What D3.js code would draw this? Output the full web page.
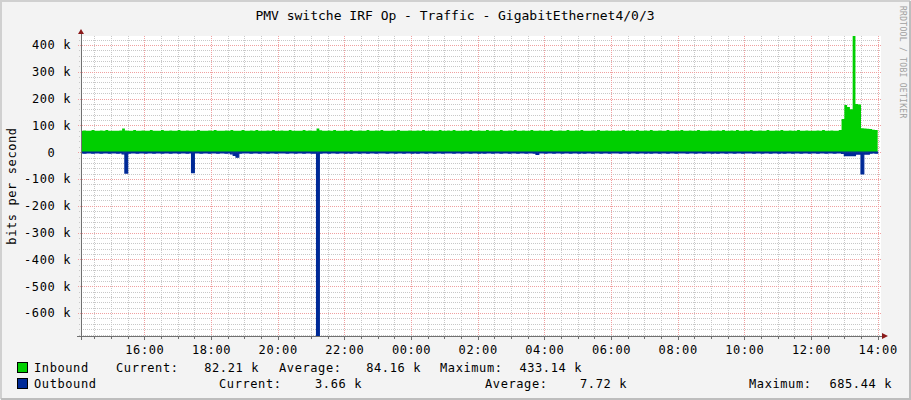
<!DOCTYPE html>
<html>
<head>
<meta charset="utf-8">
<script src="https://cdn.jsdelivr.net/npm/d3@7"></script>
<style>
body { margin: 0; background: #f3f3f3; }
text { font-family: "DejaVu Sans Mono", monospace; fill: #000; }
</style>
</head>
<body>
<svg id="chart" width="911" height="400"></svg>
<script>
// 5 minute samples, first one starts 14:05, values in k bits/s
var startTime = "2024-03-04T14:05:00";
var stepMinutes = 5;

var inbound = [
  80,81,80,80,83,80,80,81,80,83,80,80,
  80,80,81,88,81,80,80,83,80,80,81,80,
  80,83,80,80,80,83,80,80,81,80,80,83,
  80,80,81,80,80,80,83,80,80,80,81,80,
  83,80,80,80,81,80,83,80,80,80,83,80,
  80,81,80,83,80,80,80,81,80,83,80,80,
  81,80,80,83,80,80,80,80,83,80,81,80,
  80,88,82,80,80,81,80,83,80,80,80,81,
  80,83,80,80,81,80,80,83,80,80,81,80,
  83,80,80,80,81,80,83,80,80,80,81,80,
  80,81,80,83,80,80,81,80,80,83,80,80,
  81,80,83,80,80,80,81,80,83,80,80,81,
  80,80,83,80,81,80,80,83,80,80,81,80,
  83,80,80,81,80,80,83,80,80,81,80,80,
  80,83,80,80,81,80,80,83,80,80,81,80,
  83,80,80,80,81,80,83,80,80,81,80,80,
  80,81,80,83,80,80,81,80,83,80,80,81,
  80,83,80,80,81,80,80,83,80,80,81,80,
  83,80,80,81,80,80,83,80,80,80,81,80,
  80,81,80,83,80,80,81,80,83,80,80,81,
  80,83,80,80,81,80,80,83,80,80,81,80,
  83,80,80,81,80,80,83,80,80,81,80,80,
  80,81,80,83,80,80,81,80,80,83,124,176,
  168,160,433.14,180,178,89,88,87,86,84,82.21
];

var outbound = [
  3,4,3,3,4,3,3,4,3,3,4,3,
  3,4,3,6,78,4,3,3,4,3,3,4,
  3,3,4,3,3,4,3,3,4,3,3,4,
  3,3,4,3,76,3,3,4,3,3,4,3,
  3,4,3,3,4,3,6,12,19,4,3,3,
  3,4,3,3,4,3,3,4,3,3,4,3,
  3,3,4,3,3,4,3,3,4,3,3,4,
  4,685.44,4,3,3,4,3,3,4,3,3,4,
  3,4,3,3,4,3,3,4,3,3,4,3,
  3,3,4,3,3,4,3,3,4,3,3,4,
  3,4,3,3,4,3,3,4,3,3,4,3,
  3,3,4,3,3,4,3,3,4,3,3,4,
  3,4,3,3,4,3,3,4,3,3,4,3,
  3,4,3,3,4,3,3,4,8,3,3,4,
  3,3,4,3,3,4,3,3,4,3,3,4,
  3,4,3,3,4,3,3,4,3,3,4,3,
  3,3,4,3,3,4,3,3,4,3,3,4,
  3,4,3,3,4,3,3,4,3,3,4,3,
  3,3,4,3,3,4,3,3,4,3,3,4,
  3,4,3,3,4,3,3,4,3,3,4,3,
  3,3,4,3,3,4,3,3,4,3,3,4,
  3,4,3,3,4,3,3,4,3,3,4,3,
  3,4,3,3,4,3,3,4,3,3,5,13,
  13,13,13,7,7,81,7,7,4,3,3.66
];

var xTickLabels = ["16:00","18:00","20:00","22:00","00:00","02:00","04:00",
                   "06:00","08:00","10:00","12:00","14:00"];
var yTickValues = [400, 300, 200, 100, 0, -100, -200, -300, -400, -500, -600];

var seriesNames = ["Inbound", "Outbound"];
var seriesColors = ["#00cf00", "#002a97"];
var currentValues = ["82.21 k", "3.66 k"];
var averageValues = ["84.16 k", "7.72 k"];
var maximumValues = ["433.14 k", "685.44 k"];

var title = "PMV switche IRF Op - Traffic - GigabitEthernet4/0/3";

var svg = d3.select("#chart");
var plotLeft = 81, plotRight = 881, plotTop = 36, plotBottom = 336;

// frame
svg.append("rect").attr("x", 0).attr("y", 0).attr("width", 911).attr("height", 400)
    .attr("fill", "#f3f3f3");
svg.append("path").attr("d", "M1,399V1H910").attr("fill", "none")
    .attr("stroke", "#d0d0d0").attr("stroke-width", 2);
svg.append("path").attr("d", "M1,399H910V1").attr("fill", "none")
    .attr("stroke", "#bdbdbd").attr("stroke-width", 2);

svg.append("rect").attr("x", plotLeft).attr("y", plotTop)
    .attr("width", plotRight - plotLeft).attr("height", plotBottom - plotTop).attr("fill", "#fff");

var t0 = new Date(startTime);
var dayStart = d3.timeDay.floor(t0);
var x = d3.scaleTime()
    .domain([d3.timeMinute.offset(t0, 1), d3.timeMinute.offset(t0, 1 + 24 * 60)])
    .range([plotLeft, plotRight]);
var y = d3.scaleLinear().domain([-685.44, 433.14]).range([plotBottom, plotTop]);

// grid
var grid = svg.append("g");
var halfHours = d3.timeMinute.every(30).range(x.domain()[0], x.domain()[1]);
grid.selectAll(".vminor").data(halfHours.filter(d => !(d.getMinutes() == 0 && d.getHours() % 2 == 0)))
    .enter().append("line")
    .attr("x1", d => Math.round(x(d)) + 0.5).attr("x2", d => Math.round(x(d)) + 0.5)
    .attr("y1", plotTop).attr("y2", plotBottom)
    .attr("stroke", "#c8c8c8").attr("stroke-dasharray", "1,1");
var minorY = d3.range(-680, 440, 20).filter(v => v % 100 != 0);
grid.selectAll(".hminor").data(minorY).enter().append("line")
    .attr("x1", plotLeft - 2).attr("x2", plotRight)
    .attr("y1", d => Math.round(y(d)) + 0.5).attr("y2", d => Math.round(y(d)) + 0.5)
    .attr("stroke", "#c8c8c8").attr("stroke-dasharray", "1,1");

var xTickDates = [];
var day = dayStart;
xTickLabels.forEach(function(s, i) {
    var hm = s.split(":");
    if (i > 0 && s == "00:00") day = d3.timeDay.offset(day, 1);
    var d = new Date(day);
    d.setHours(+hm[0], +hm[1]);
    xTickDates.push(d);
});

grid.selectAll(".vmajor").data(xTickDates).enter().append("line")
    .attr("x1", d => Math.round(x(d)) + 0.5).attr("x2", d => Math.round(x(d)) + 0.5)
    .attr("y1", plotTop).attr("y2", plotBottom)
    .attr("stroke", "#f0a0a0").attr("stroke-dasharray", "1,1");
grid.selectAll(".hmajor").data(yTickValues).enter().append("line")
    .attr("x1", plotLeft - 3).attr("x2", plotRight)
    .attr("y1", d => Math.round(y(d)) + 0.5).attr("y2", d => Math.round(y(d)) + 0.5)
    .attr("stroke", "#f0a0a0").attr("stroke-dasharray", "1,1");

// data
function points(values) {
    var pts = values.map((v, i) => ({ t: d3.timeMinute.offset(t0, i * stepMinutes), v: v }));
    pts.push({ t: d3.timeMinute.offset(t0, values.length * stepMinutes), v: values[values.length - 1] });
    return pts;
}

svg.append("clipPath").attr("id", "plot").append("rect")
    .attr("x", plotLeft).attr("y", plotTop - 1)
    .attr("width", plotRight - plotLeft).attr("height", plotBottom - plotTop + 1);

var plot = svg.append("g").attr("clip-path", "url(#plot)");

var inArea = d3.area().curve(d3.curveStepAfter)
    .x(d => x(d.t)).y0(y(0)).y1(d => y(d.v));
var outArea = d3.area().curve(d3.curveStepAfter)
    .x(d => x(d.t)).y0(y(0)).y1(d => y(-d.v));

plot.append("path").datum(points(inbound)).attr("d", inArea)
    .attr("fill", seriesColors[0]);
plot.append("path").datum(points(outbound)).attr("d", outArea)
    .attr("fill", seriesColors[1]).attr("stroke", seriesColors[1]).attr("stroke-width", 1.2);

// axes
var axisColor = "#707070";
svg.append("line").attr("x1", plotLeft - 4).attr("x2", 884)
    .attr("y1", plotBottom + 0.5).attr("y2", plotBottom + 0.5)
    .attr("stroke", axisColor);
svg.append("line").attr("x1", plotLeft + 0.5).attr("x2", plotLeft + 0.5)
    .attr("y1", plotBottom + 4).attr("y2", 33)
    .attr("stroke", axisColor);
svg.append("path").attr("d", "M78,34L84,34L81,29Z").attr("fill", "#8b1a1a");
svg.append("path").attr("d", "M882,333L882,339L888,336Z").attr("fill", "#8b1a1a");

// tick marks below the x axis
svg.selectAll(".xtick").data(halfHours).enter().append("line")
    .attr("x1", d => Math.round(x(d)) + 0.5).attr("x2", d => Math.round(x(d)) + 0.5)
    .attr("y1", plotBottom).attr("y2", d => plotBottom + (d.getMinutes() == 0 && d.getHours() % 2 == 0 ? 4 : 3))
    .attr("stroke", axisColor);

var xAxis = d3.axisBottom(x).tickValues(xTickDates).tickSize(0).tickPadding(9)
    .tickFormat(d3.timeFormat("%H:%M"));
var gx = svg.append("g").attr("transform", "translate(0," + plotBottom + ")").call(xAxis);
gx.select(".domain").remove();
gx.selectAll("text").style("font-family", "'DejaVu Sans Mono', monospace")
    .style("font-size", "12px").style("letter-spacing", "0.6px").attr("fill", "#000");

var yAxis = d3.axisLeft(y).tickValues(yTickValues).tickSize(0).tickPadding(10)
    .tickFormat(v => v == 0 ? "0  " : v + " k");
var gy = svg.append("g").attr("transform", "translate(" + plotLeft + ",0)").call(yAxis);
gy.select(".domain").remove();
gy.selectAll("text").style("font-family", "'DejaVu Sans Mono', monospace")
    .style("font-size", "12px").style("letter-spacing", "0.6px")
    .style("white-space", "pre").attr("fill", "#000");

// titles
svg.append("text").attr("x", 455).attr("y", 20).attr("text-anchor", "middle")
    .style("font-size", "13px").text(title);
svg.append("text").attr("transform", "translate(16,186) rotate(-90)")
    .attr("text-anchor", "middle").style("font-size", "12px").style("letter-spacing", "0.6px")
    .text("bits per second");
svg.append("text").attr("transform", "translate(900,6) rotate(90)")
    .style("font-size", "8px").style("letter-spacing", "0.3px")
    .style("fill", "#a0a0a0").text("RRDTOOL / TOBI OETIKER");

// legend
var legendY = [372, 388];
var legendPos = [
    { cur: 116, curV: 259, avg: 279, avgV: 421, max: 440, maxV: 582 },
    { cur: 219, curV: 362, avg: 485, avgV: 627, max: 749, maxV: 892 }
];
seriesNames.forEach(function(name, i) {
    var g = svg.append("g").style("font-size", "12px").style("letter-spacing", "0.6px");
    var yy = legendY[i], p = legendPos[i];
    g.append("rect").attr("x", 17.5).attr("y", yy - 9.5).attr("width", 10).attr("height", 10)
        .attr("fill", seriesColors[i]).attr("stroke", "#000");
    g.append("text").attr("x", 34).attr("y", yy).text(name);
    g.append("text").attr("x", p.cur).attr("y", yy).text("Current:");
    g.append("text").attr("x", p.curV).attr("y", yy).attr("text-anchor", "end").text(currentValues[i]);
    g.append("text").attr("x", p.avg).attr("y", yy).text("Average:");
    g.append("text").attr("x", p.avgV).attr("y", yy).attr("text-anchor", "end").text(averageValues[i]);
    g.append("text").attr("x", p.max).attr("y", yy).text("Maximum:");
    g.append("text").attr("x", p.maxV).attr("y", yy).attr("text-anchor", "end").text(maximumValues[i]);
});
</script>
</body>
</html>
